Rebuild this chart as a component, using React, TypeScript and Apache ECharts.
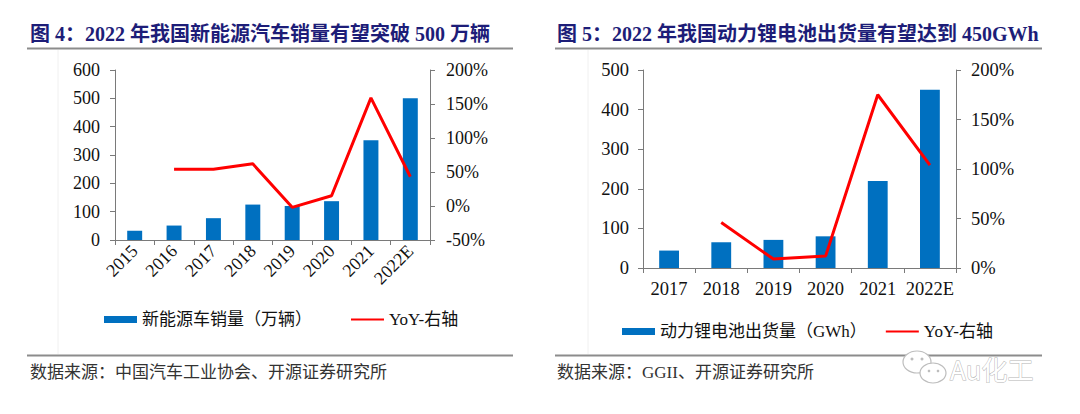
import React, { useEffect, useRef } from "react";
import * as echarts from "echarts";

const years1 = ["2015", "2016", "2017", "2018", "2019", "2020", "2021", "2022E"];
const evSales = [33, 51, 77, 125, 120, 137, 352, 500];
const evYoY = [null, 54, 54, 62, -2, 15, 159, 43];

const years2 = ["2017", "2018", "2019", "2020", "2021", "2022E"];
const batteryShip = [44, 65, 71, 80, 220, 450];
const batteryYoY = [null, 46, 9, 12, 175, 104];

const title1 = "图 4：2022 年我国新能源汽车销量有望突破 500 万辆";
const title2 = "图 5：2022 年我国动力锂电池出货量有望达到 450GWh";
const source1 = "数据来源：中国汽车工业协会、开源证券研究所";
const source2 = "数据来源：GGII、开源证券研究所";
const barName1 = "新能源车销量（万辆）";
const barName2 = "动力锂电池出货量（GWh）";
const lineName = "YoY-右轴";

const FONT = "'Liberation Serif', 'Times New Roman', 'Noto Sans CJK SC', serif";
const AXIS_COLOR = "#7a7a7a";
const BAR_COLOR = "#0070C0";
const LINE_COLOR = "#FF0000";
const TITLE_COLOR = "#1d1d78";

export default function App() {
  const ref = useRef<HTMLDivElement>(null);
  useEffect(() => {
    if (!ref.current) return;
    const chart = echarts.init(ref.current, undefined, { renderer: "svg" });
    const axisLine = { show: true, lineStyle: { color: AXIS_COLOR, width: 1 } };
    const axisTick = { show: true, length: 5, lineStyle: { color: AXIS_COLOR } };
    const labelStyle = { color: "#111", fontFamily: FONT };
    const hiddenSymbol = { color: "transparent", opacity: 0, borderWidth: 0 };
    chart.setOption({
      animation: false,
      backgroundColor: "#fff",
      grid: [
        { left: 115, top: 70, width: 315, height: 170 },
        { left: 643, top: 70, width: 313, height: 198 },
      ],
      xAxis: [
        {
          type: "category",
          gridIndex: 0,
          data: years1,
          axisLine,
          axisTick: { ...axisTick, interval: 0 },
          axisLabel: { ...labelStyle, fontSize: 18, rotate: 45, interval: 0, margin: 8 },
        },
        {
          type: "category",
          gridIndex: 1,
          data: years2,
          axisLine,
          axisTick: { ...axisTick, interval: 0 },
          axisLabel: { ...labelStyle, fontSize: 18.5, interval: 0, margin: 12 },
        },
      ],
      yAxis: [
        {
          type: "value",
          gridIndex: 0,
          min: 0,
          max: 600,
          interval: 100,
          axisLine,
          axisTick,
          splitLine: { show: false },
          axisLabel: { ...labelStyle, fontSize: 18, margin: 15 },
        },
        {
          type: "value",
          gridIndex: 0,
          position: "right",
          min: -50,
          max: 200,
          interval: 50,
          axisLine,
          axisTick,
          splitLine: { show: false },
          axisLabel: { ...labelStyle, fontSize: 18, margin: 16, formatter: "{value}%" },
        },
        {
          type: "value",
          gridIndex: 1,
          min: 0,
          max: 500,
          interval: 100,
          axisLine,
          axisTick,
          splitLine: { show: false },
          axisLabel: { ...labelStyle, fontSize: 18.5, margin: 14 },
        },
        {
          type: "value",
          gridIndex: 1,
          position: "right",
          min: 0,
          max: 200,
          interval: 50,
          axisLine,
          axisTick,
          splitLine: { show: false },
          axisLabel: { ...labelStyle, fontSize: 18.5, margin: 15, formatter: "{value}%" },
        },
      ],
      legend: [
        {
          data: [{ name: barName1, icon: "rect" }, { name: lineName, itemStyle: hiddenSymbol }],
          left: 99,
          top: 306,
          itemWidth: 33,
          itemHeight: 7,
          itemGap: 38,
          selectedMode: false,
          textStyle: { color: "#111", fontFamily: FONT, fontSize: 17 },
        },
        {
          data: [{ name: barName2, icon: "rect" }, { name: lineName, itemStyle: hiddenSymbol }],
          left: 617,
          top: 318,
          itemWidth: 33,
          itemHeight: 7,
          itemGap: 18,
          selectedMode: false,
          textStyle: { color: "#111", fontFamily: FONT, fontSize: 17 },
        },
      ],
      series: [
        {
          name: barName1,
          type: "bar",
          xAxisIndex: 0,
          yAxisIndex: 0,
          data: evSales,
          barWidth: "38%",
          itemStyle: { color: BAR_COLOR },
        },
        {
          name: lineName,
          type: "line",
          xAxisIndex: 0,
          yAxisIndex: 1,
          data: evYoY,
          symbol: "none",
          lineStyle: { color: LINE_COLOR, width: 3 },
          itemStyle: { color: LINE_COLOR },
          z: 5,
        },
        {
          name: barName2,
          type: "bar",
          xAxisIndex: 1,
          yAxisIndex: 2,
          data: batteryShip,
          barWidth: "38%",
          itemStyle: { color: BAR_COLOR },
        },
        {
          name: lineName,
          type: "line",
          xAxisIndex: 1,
          yAxisIndex: 3,
          data: batteryYoY,
          symbol: "none",
          lineStyle: { color: LINE_COLOR, width: 3 },
          itemStyle: { color: LINE_COLOR },
          z: 5,
        },
      ],
      graphic: [
        { type: "line", shape: { x1: 58, y1: 50, x2: 58, y2: 354 }, style: { stroke: "#f0f0f0", lineWidth: 1 } },
        { type: "line", shape: { x1: 588, y1: 50, x2: 588, y2: 354 }, style: { stroke: "#f0f0f0", lineWidth: 1 } },
        {
          type: "text",
          x: 30,
          y: 34,
          style: {
            text: title1,
            font: `bold 20px ${FONT}`,
            fill: TITLE_COLOR,
            textVerticalAlign: "middle",
          },
        },
        {
          type: "text",
          x: 557,
          y: 34,
          style: {
            text: title2,
            font: `bold 20px ${FONT}`,
            fill: TITLE_COLOR,
            textVerticalAlign: "middle",
          },
        },
        { type: "line", shape: { x1: 27, y1: 48.5, x2: 513, y2: 48.5 }, style: { stroke: "#8c8c8c", lineWidth: 2 } },
        { type: "line", shape: { x1: 555, y1: 48.5, x2: 1042, y2: 48.5 }, style: { stroke: "#8c8c8c", lineWidth: 2 } },
        { type: "line", shape: { x1: 27, y1: 355.5, x2: 513, y2: 355.5 }, style: { stroke: "#8c8c8c", lineWidth: 2 } },
        { type: "line", shape: { x1: 555, y1: 355.5, x2: 1042, y2: 355.5 }, style: { stroke: "#8c8c8c", lineWidth: 2 } },
        {
          type: "text",
          x: 30,
          y: 372,
          style: { text: source1, font: `17px ${FONT}`, fill: "#333", textVerticalAlign: "middle" },
        },
        {
          type: "text",
          x: 557,
          y: 372,
          style: { text: source2, font: `17px ${FONT}`, fill: "#333", textVerticalAlign: "middle" },
        },
        {
          type: "ellipse",
          shape: { cx: 917, cy: 362, rx: 14, ry: 11 },
          style: { fill: "#fff", stroke: "#bdbdbd", lineWidth: 1.2 },
        },
        {
          type: "ellipse",
          shape: { cx: 933, cy: 373, rx: 13, ry: 10 },
          style: { fill: "#fff", stroke: "#bdbdbd", lineWidth: 1.2 },
        },
        { type: "circle", shape: { cx: 912, cy: 359, r: 1.5 }, style: { fill: "#bdbdbd" } },
        { type: "circle", shape: { cx: 922, cy: 359, r: 1.5 }, style: { fill: "#bdbdbd" } },
        { type: "circle", shape: { cx: 929, cy: 371, r: 1.3 }, style: { fill: "#bdbdbd" } },
        { type: "circle", shape: { cx: 938, cy: 371, r: 1.3 }, style: { fill: "#bdbdbd" } },
        {
          type: "text",
          x: 950,
          y: 368,
          style: {
            text: "Au化工",
            font: `26px 'Noto Sans CJK SC', sans-serif`,
            fill: "#fff",
            stroke: "#b5b5b5",
            lineWidth: 1,
            textVerticalAlign: "middle",
          },
        },
      ],
    });
    return () => chart.dispose();
  }, []);
  return (
    <div
      ref={ref}
      style={{ position: "absolute", left: 0, top: 0, width: 1080, height: 414, background: "#fff" }}
    />
  );
}
